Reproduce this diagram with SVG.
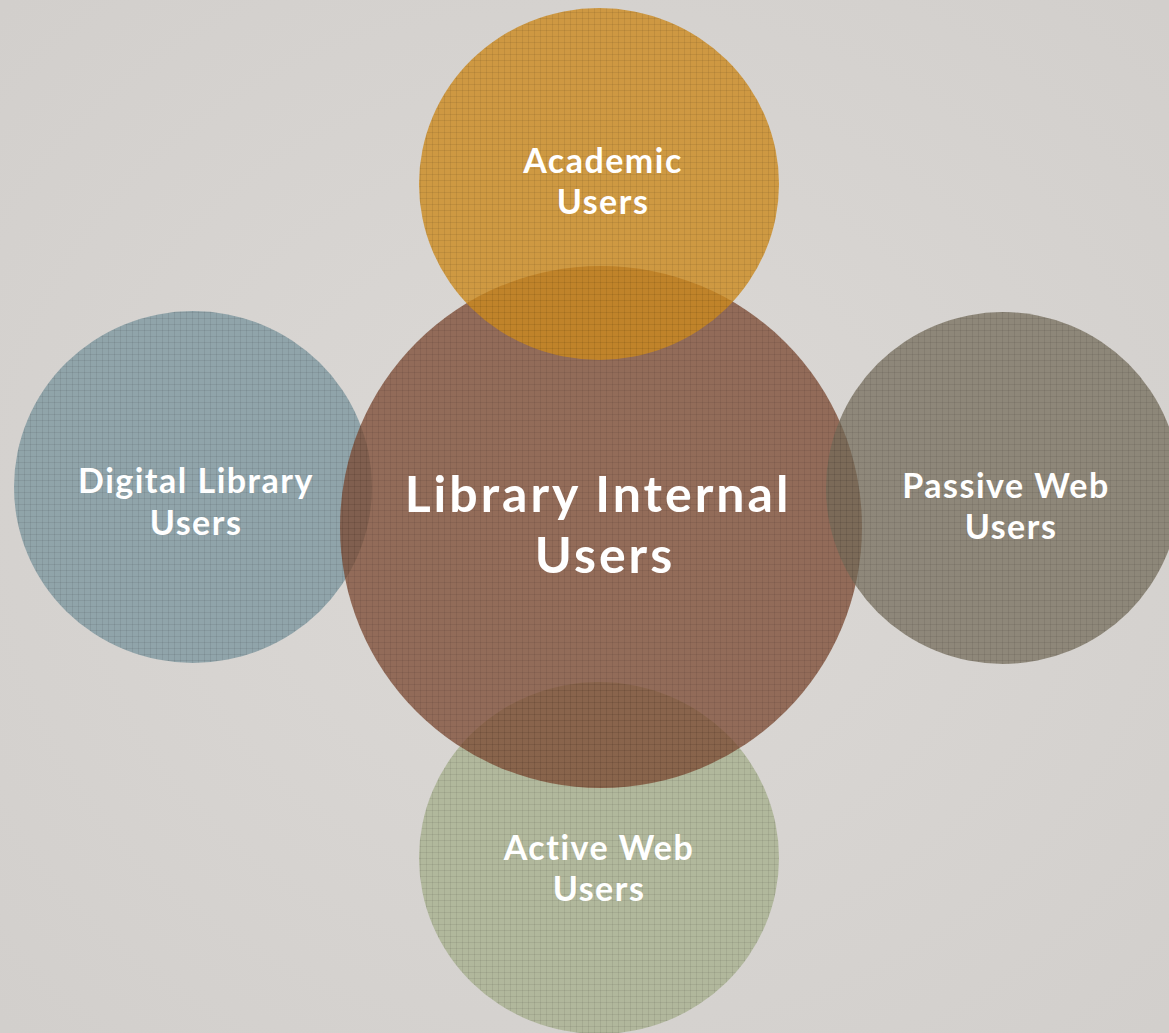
<svg xmlns="http://www.w3.org/2000/svg" width="1169" height="1033" viewBox="0 0 1169 1033">
  <defs>
    <pattern id="grid" width="6" height="6" patternUnits="userSpaceOnUse">
      <path d="M0 0.5H6M0.5 0V6" stroke="#000" stroke-opacity="0.07" stroke-width="1" fill="none"/>
    </pattern>
    <radialGradient id="bg" cx="0.5" cy="0.5" r="0.7">
      <stop offset="0" stop-color="#dcd9d6"/>
      <stop offset="1" stop-color="#d2cfcc"/>
    </radialGradient>
  </defs>
  <style>
    .lbl { font-family: Lato, "Open Sans", "Liberation Sans", sans-serif; font-weight: bold; fill: #ffffff; text-anchor: middle; }
    .sm { font-size: 34px; letter-spacing: 1.5px; }
    .lg { font-size: 50px; letter-spacing: 3px; }
    .tex { fill: url(#grid); }
  </style>
  <rect width="1169" height="1033" fill="url(#bg)"/>

  <g id="digital-library-users">
    <ellipse cx="193" cy="487" rx="179" ry="176" fill="#8aa0a6" fill-opacity="0.92"/>
    <ellipse class="tex" cx="193" cy="487" rx="179" ry="176"/>
  </g>
  <g id="active-web-users">
    <ellipse cx="599" cy="858" rx="180" ry="176" fill="#aab393" fill-opacity="0.85"/>
    <ellipse class="tex" cx="599" cy="858" rx="180" ry="176"/>
  </g>
  <g id="library-internal-users">
    <circle cx="601" cy="527" r="261" fill="#7b4a32" fill-opacity="0.76"/>
    <circle class="tex" cx="601" cy="527" r="261"/>
  </g>
  <g id="passive-web-users">
    <ellipse cx="1003" cy="488" rx="177" ry="176" fill="#716a58" fill-opacity="0.72"/>
    <ellipse class="tex" cx="1003" cy="488" rx="177" ry="176"/>
  </g>
  <g id="academic-users">
    <ellipse cx="599" cy="184" rx="180" ry="176" fill="#cc8a1e" fill-opacity="0.8"/>
    <ellipse class="tex" cx="599" cy="184" rx="180" ry="176"/>
  </g>

  <g id="labels">
    <text class="lbl sm" x="603" y="173">Academic</text>
    <text class="lbl sm" x="603" y="214">Users</text>
    <text class="lbl sm" x="196" y="493">Digital Library</text>
    <text class="lbl sm" x="196" y="535">Users</text>
    <text class="lbl lg" x="598" y="512">Library Internal</text>
    <text class="lbl lg" x="605" y="573">Users</text>
    <text class="lbl sm" x="1006" y="498">Passive Web</text>
    <text class="lbl sm" x="1011" y="539">Users</text>
    <text class="lbl sm" x="599" y="860">Active Web</text>
    <text class="lbl sm" x="599" y="901">Users</text>
  </g>
  <g id="connectors"/>
</svg>
